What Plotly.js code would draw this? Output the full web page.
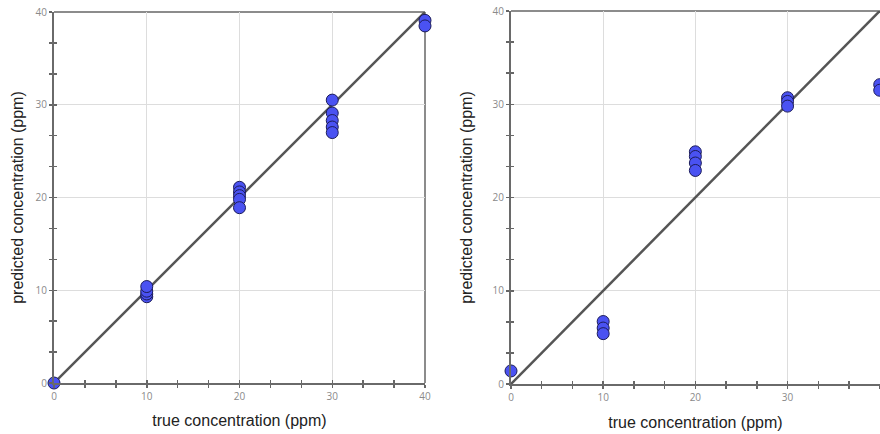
<!DOCTYPE html>
<html>
<head>
<meta charset="utf-8">
<script src="https://cdn.plot.ly/plotly-3.0.1.min.js"></script>
<style>html,body{margin:0;padding:0;background:#fff;overflow:hidden;}#chart{width:880px;height:434px;}</style>
</head>
<body>
<div id="chart"></div>
<script>
// Left panel: true vs predicted
const leftTrue = [0, 10, 10, 10, 10, 20, 20, 20, 20, 20, 30, 30, 30, 30, 30, 40, 40];
const leftPred = [0, 9.3, 9.6, 9.9, 10.4, 21.1, 20.6, 20.2, 19.8, 18.9, 30.5, 29.1, 28.3, 27.6, 27.0, 39.1, 38.5];
// Right panel: true vs predicted
const rightTrue = [0, 10, 10, 10, 20, 20, 20, 20, 30, 30, 30, 40, 40];
const rightPred = [1.4, 6.7, 6.0, 5.4, 24.9, 24.4, 23.7, 22.9, 30.7, 30.3, 29.8, 32.1, 31.5];
// identity line
const identityX = [0, 40];
const identityY = [0, 40];
const tickVals = [0, 10, 20, 30, 40];
const tickText = ['0', '10', '20', '30', '40'];
const xTitle = 'true concentration (ppm)';
const yTitle = 'predicted concentration (ppm)';

const markerStyle = {size: 12, color: '#4a52f2', line: {color: '#1c1c5a', width: 1}};
const lineStyle = {color: '#555555', width: 2.5};

const traces = [
  {x: identityX, y: identityY, xaxis: 'x', yaxis: 'y', mode: 'lines', line: lineStyle, hoverinfo: 'skip', showlegend: false},
  {x: leftTrue, y: leftPred, xaxis: 'x', yaxis: 'y', mode: 'markers', marker: markerStyle, cliponaxis: false, showlegend: false},
  {x: identityX, y: identityY, xaxis: 'x2', yaxis: 'y2', mode: 'lines', line: lineStyle, hoverinfo: 'skip', showlegend: false},
  {x: rightTrue, y: rightPred, xaxis: 'x2', yaxis: 'y2', mode: 'markers', marker: markerStyle, cliponaxis: false, showlegend: false}
];

const tickFont = {family: 'Open Sans, Liberation Sans, sans-serif', size: 10, color: '#8a8a8a'};
const titleFont = {family: 'Liberation Sans, Arial, sans-serif', size: 16, color: '#222222'};

function mainAxis(domain, range, title, anchor, standoff) {
  return {
    domain: domain, range: range, anchor: anchor,
    tickmode: 'array', tickvals: tickVals, ticktext: tickText,
    ticks: 'outside', ticklen: 3, tickwidth: 1.5, tickcolor: '#666',
    minor: {dtick: 10/3, tick0: 0, ticks: 'outside', ticklen: 3, tickwidth: 1.5, tickcolor: '#666', showgrid: false},
    showline: true, linecolor: '#6a6a6a', linewidth: 2,
    showgrid: true, gridcolor: '#dddddd', gridwidth: 1,
    zeroline: false, tickfont: tickFont, automargin: false,
    title: {text: title, font: titleFont, standoff: standoff},
    fixedrange: true
  };
}
function innerAxis(domain, range, overlay, anchor, side) {
  return {
    domain: domain, range: range, overlaying: overlay, anchor: anchor, side: side,
    tickmode: 'array', tickvals: tickVals,
    ticks: 'inside', ticklen: 3, tickwidth: 1.5, tickcolor: '#666',
    minor: {dtick: 10/3, tick0: 0, ticks: 'inside', ticklen: 3, tickwidth: 1.5, tickcolor: '#666', showgrid: false},
    showticklabels: false, showgrid: false, showline: false, zeroline: false, automargin: false
  };
}

const W = 880, H = 434;
const lx = [54 / W, 425 / W];
const ly = [(H - 383) / H, (H - 12) / H];
const rx = [511 / W, 1.0];
const ry = [(H - 384) / H, (H - 11) / H];
const rRangeX = [0, 40.03];

const layout = {
  width: W, height: H,
  margin: {l: 0, r: 0, t: 0, b: 0},
  paper_bgcolor: '#ffffff', plot_bgcolor: '#ffffff',
  showlegend: false,
  xaxis: mainAxis(lx, [0, 40], xTitle, 'y', 13),
  yaxis: mainAxis(ly, [0, 40], yTitle, 'x', 8),
  xaxis2: mainAxis(rx, rRangeX, xTitle, 'y2', 14),
  yaxis2: mainAxis(ry, [0, 40], yTitle, 'x2', 16),
  xaxis3: innerAxis(lx, [0, 40], 'x', 'y', 'bottom'),
  yaxis3: innerAxis(ly, [0, 40], 'y', 'x', 'left'),
  xaxis4: innerAxis(rx, rRangeX, 'x2', 'y2', 'bottom'),
  yaxis4: innerAxis(ry, [0, 40], 'y2', 'x2', 'left'),
  shapes: [
    {type: 'line', xref: 'x domain', yref: 'y domain', x0: 0, x1: 1, y0: 1, y1: 1, line: {color: '#8c8c8c', width: 2}, layer: 'below'},
    {type: 'line', xref: 'x domain', yref: 'y domain', x0: 1, x1: 1, y0: 0, y1: 1, line: {color: '#8c8c8c', width: 2}, layer: 'below'},
    {type: 'line', xref: 'x2 domain', yref: 'y2 domain', x0: 0, x1: 1, y0: 1, y1: 1, line: {color: '#8c8c8c', width: 2}, layer: 'below'}
  ]
};

// dummy traces to activate overlay axes
traces.push({x: [], y: [], xaxis: 'x3', yaxis: 'y3', mode: 'markers', showlegend: false, hoverinfo: 'skip'});
traces.push({x: [], y: [], xaxis: 'x4', yaxis: 'y4', mode: 'markers', showlegend: false, hoverinfo: 'skip'});

Plotly.newPlot('chart', traces, layout, {displayModeBar: false, staticPlot: true});
</script>
</body>
</html>
